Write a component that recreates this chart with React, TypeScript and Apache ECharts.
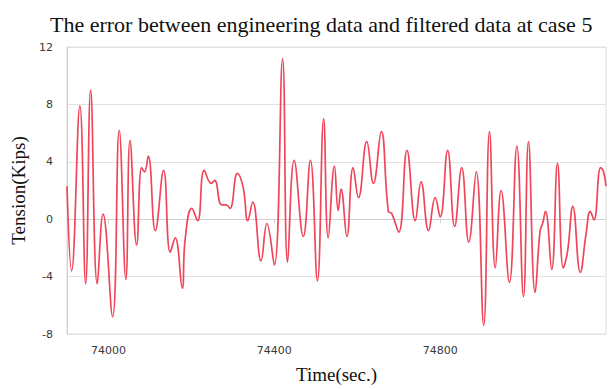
import React, { useEffect, useRef } from "react";
import * as echarts from "echarts";

const titleText = "The error between engineering data and filtered data at case 5";
const xName = "Time(sec.)";
const yName = "Tension(Kips)";
const xTicks = [74000, 74400, 74800];

const times = [
  73900, 73911, 73931, 73945, 73957, 73973, 73987, 74010, 74026, 74042,
  74052, 74068, 74080, 74087, 74096, 74113, 74133, 74149, 74161, 74178,
  74185, 74201, 74215, 74231, 74248, 74256, 74273, 74284, 74293, 74311,
  74325, 74336, 74348, 74368, 74382, 74400, 74420, 74432, 74448, 74470,
  74487, 74504, 74519, 74530, 74545, 74554, 74561, 74575, 74590, 74603,
  74623, 74639, 74658, 74675, 74683, 74700, 74720, 74740, 74754, 74772,
  74788, 74800, 74818, 74835, 74852, 74869, 74887, 74905, 74919, 74933,
  74947, 74967, 74985, 75001, 75013, 75029, 75041, 75047, 75054, 75069,
  75083, 75097, 75107, 75120, 75138, 75152, 75162, 75171, 75187, 75194,
  75200,
];

const errors = [
  2.3, -3.6, 7.9, -4.5, 9.0, -4.5, 0.35, -6.8, 6.2, -4.2,
  5.5, -1.8, 3.6, 3.3, 4.4, -0.8, 3.4, -2.3, -1.3, -4.8,
  -1.4, 0.75, -0.1, 3.4, 2.5, 2.7, 1.0, 1.0, 0.75, 3.2,
  2.2, -0.1, 1.2, -2.9, -0.3, -3.2, 11.2, -3.0, 4.1, -1.2,
  4.1, -4.3, 7.0, -1.3, 3.7, 0.6, 2.1, -1.2, 3.6, 1.5,
  5.4, 2.5, 6.1, 0.55, 0.4, -0.9, 4.8, -0.1, 2.6, -0.8,
  1.5, 0.15, 4.8, -0.5, 3.6, -1.6, 3.3, -7.4, 6.1, -3.4,
  2.0, -4.4, 5.1, -5.4, 5.4, -5.1, -0.8, -0.3, 0.55, -3.5,
  3.9, -3.4, -2.3, 0.9, -3.7, -1.0, 0.55, -0.05, 3.6, 3.3,
  2.3,
];

export default function App() {
  const ref = useRef<HTMLDivElement>(null);
  useEffect(() => {
    if (!ref.current) return;
    const chart = echarts.init(ref.current, null, { renderer: "svg" });
    const data = times.map((t, i) => [t, errors[i]]);
    chart.setOption({
      animation: false,
      backgroundColor: "#ffffff",
      title: {
        text: titleText,
        left: 45,
        top: 8,
        textStyle: {
          fontFamily: "Liberation Serif",
          fontWeight: "normal",
          fontSize: 22,
          color: "#111111",
        },
      },
      grid: {
        left: 67,
        right: 7,
        top: 47,
        bottom: 52,
        show: true,
        borderColor: "#dcdcdc",
        borderWidth: 1,
      },
      xAxis: {
        type: "value",
        min: 73900,
        max: 75200,
        name: xName,
        nameLocation: "middle",
        nameGap: 31,
        nameTextStyle: {
          fontFamily: "Liberation Serif",
          fontSize: 19,
          color: "#111111",
        },
        axisLine: { show: true, lineStyle: { color: "#d0d0d0" } },
        axisTick: {
          show: true,
          customValues: xTicks,
          length: 4,
          lineStyle: { color: "#d0d0d0" },
        },
        axisLabel: {
          customValues: xTicks,
          margin: 11,
          fontFamily: "DejaVu Sans",
          fontSize: 11,
          color: "#3a3a3a",
          formatter: (v: number) => String(v),
        },
        splitLine: { show: false },
      },
      yAxis: {
        type: "value",
        min: -8,
        max: 12,
        interval: 4,
        name: yName,
        nameLocation: "middle",
        nameGap: 32,
        nameTextStyle: {
          fontFamily: "Liberation Serif",
          fontSize: 19,
          color: "#111111",
        },
        axisLine: { show: true, lineStyle: { color: "#d0d0d0" } },
        axisTick: { show: false },
        axisLabel: {
          margin: 14,
          fontFamily: "DejaVu Sans",
          fontSize: 11,
          color: "#3a3a3a",
        },
        splitLine: { show: true, lineStyle: { color: "#e2e2e2", width: 1 } },
      },
      series: [
        {
          type: "line",
          data,
          showSymbol: false,
          smooth: 0.45,
          lineStyle: { color: "#f0465a", width: 1.7 },
        },
      ],
    });
    return () => chart.dispose();
  }, []);
  return (
    <div
      ref={ref}
      style={{ position: "absolute", left: 0, top: 0, width: 613, height: 389 }}
    />
  );
}
